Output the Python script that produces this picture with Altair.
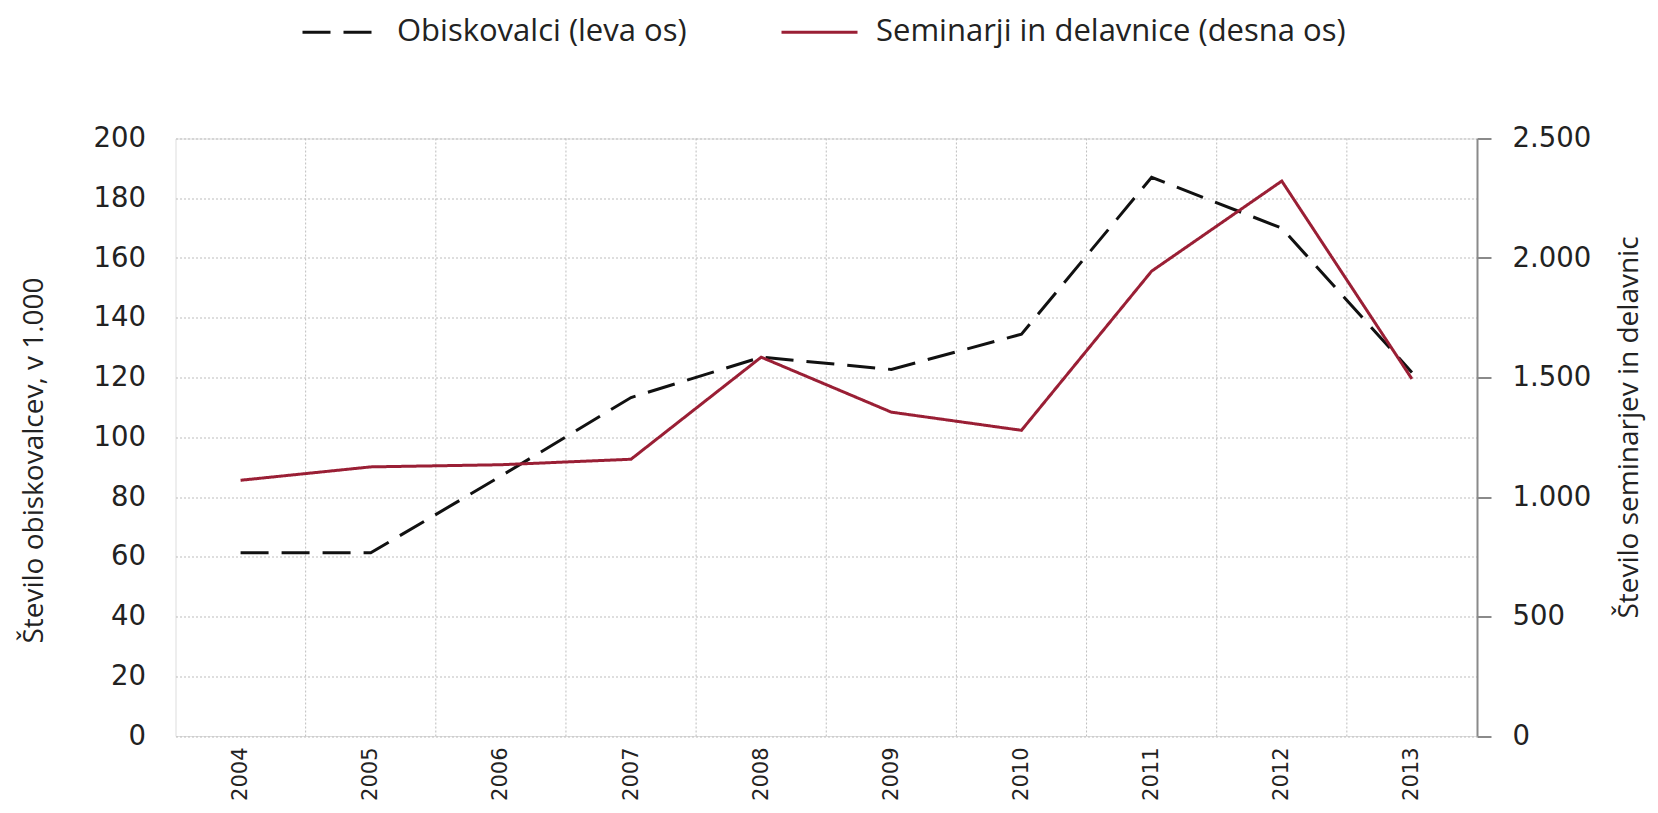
import altair as alt
import pandas as pd

# --- data ---
years = [2004, 2005, 2006, 2007, 2008, 2009, 2010, 2011, 2012, 2013]
obiskovalci = [61.3, 61.3, 87.0, 113.3, 126.8, 122.7, 134.5, 187.0, 170.0, 121.7]  # v 1.000 (leva os)
seminarji = [1070, 1126, 1135, 1158, 1585, 1355, 1279, 1945, 2322, 1494]          # (desna os)
series_names = ["Obiskovalci (leva os)", "Seminarji in delavnice (desna os)"]
left_ticks = [0, 20, 40, 60, 80, 100, 120, 140, 160, 180, 200]
right_ticks = [0, 500, 1000, 1500, 2000, 2500]

df1 = pd.DataFrame({"leto": years, "vrednost": obiskovalci, "serija": series_names[0]})
df2 = pd.DataFrame({"leto": years, "vrednost": seminarji, "serija": series_names[1]})
# category boundaries between consecutive years (vertical grid)
grid_df = pd.DataFrame({"leto": [(a + b) / 2 for a, b in zip(years[:-1], years[1:])]})

TXT = "#222222"
GRID = "#bdbdbd"
W, H = 1301.5, 597.5

legend = alt.Legend(
    title=None, orient="none", direction="horizontal",
    legendX=125.5, legendY=-146,
    symbolType="stroke", symbolSize=5776, symbolStrokeWidth=3,
    labelFont="Open Sans", labelFontSize=31, labelColor=TXT,
    labelOffset=17, columnPadding=88, labelLimit=700,
)
color = alt.Color("serija:N", scale=alt.Scale(domain=series_names, range=["#111111", "#9a1f35"]), legend=legend)
dash = alt.StrokeDash("serija:N", scale=alt.Scale(domain=series_names, range=[[28, 13], [1, 0]]), legend=legend)

x = alt.X(
    "leto:Q",
    scale=alt.Scale(domain=[2003.5, 2013.5], nice=False, zero=False),
    axis=alt.Axis(
        values=years, title=None, format="d",
        labelAngle=270, labelAlign="right", labelBaseline="middle",
        labelPadding=11, labelOverlap=False, labelFlush=False,
        ticks=False, domain=False, grid=False,
        labelFont="DejaVu Sans", labelFontSize=21, labelColor=TXT,
    ),
)

vgrid = alt.Chart(grid_df).mark_rule(color=GRID, strokeDash=[2, 2], strokeWidth=1).encode(
    x=x, y=alt.value(0), y2=alt.value(H)
)

line1 = alt.Chart(df1).mark_line(strokeWidth=3).encode(
    x=x,
    y=alt.Y(
        "vrednost:Q",
        scale=alt.Scale(domain=[0, 200], nice=False),
        axis=alt.Axis(
            values=left_ticks, title="Število obiskovalcev, v 1.000",
            titleFont="Open Sans", titleFontSize=28, titleFontWeight="normal", titleColor=TXT,
            titleAngle=270, titleX=-141.5, titleY=321.5, titleAlign="center", titleBaseline="middle",
            ticks=False, domain=False, labelPadding=30,
            labelFont="DejaVu Sans", labelFontSize=27.5, labelColor=TXT,
            grid=True, gridColor=GRID, gridDash=[2, 2], gridWidth=1,
        ),
    ),
    color=color,
    strokeDash=dash,
)

line2 = alt.Chart(df2).mark_line(strokeWidth=3).encode(
    x=x,
    y=alt.Y(
        "vrednost:Q",
        scale=alt.Scale(domain=[0, 2500], nice=False),
        axis=alt.Axis(
            orient="right", values=right_ticks, title="Število seminarjev in delavnic",
            labelExpr="replace(format(datum.value, ','), ',', '.')",
            titleFont="Open Sans", titleFontSize=28, titleFontWeight="normal", titleColor=TXT,
            titleAngle=270, titleX=152, titleY=288.5, titleAlign="center", titleBaseline="middle",
            domain=True, domainColor="#8a8a8a", domainWidth=2,
            ticks=True, tickColor="#8a8a8a", tickSize=14, tickWidth=2,
            labelPadding=21, labelFont="DejaVu Sans", labelFontSize=27.5, labelColor=TXT,
            grid=False,
        ),
    ),
    color=color,
    strokeDash=dash,
)

chart = (
    alt.layer(vgrid, line1, line2)
    .resolve_scale(y="independent")
    .properties(
        width=W, height=H,
        autosize=alt.AutoSizeParams(type="none"),
        padding={"left": 167.5, "top": 130.5, "right": 172, "bottom": 65},
    )
    .configure_view(stroke="#b5b5b5", strokeWidth=2)
    .configure(background="white")
)

chart.save("out.html", embed_options={"renderer": "svg", "actions": False})
